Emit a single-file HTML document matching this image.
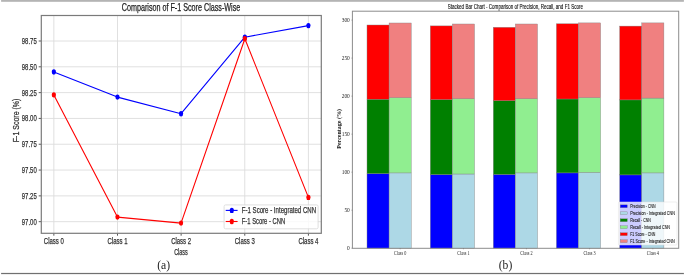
<!DOCTYPE html>
<html><head><meta charset="utf-8"><style>
html,body{margin:0;padding:0;background:#fff;}
body{width:685px;height:275px;overflow:hidden;}
svg{display:block;}
#w{will-change:transform;width:685px;height:275px;}
text{font-family:"Liberation Sans",sans-serif;}
.sf{font-family:"Liberation Serif",serif;}
.bd{stroke:#333;stroke-width:0.25px;}
</style></head><body>
<div id="w"><svg width="685" height="275" viewBox="0 0 685 275">
<rect x="0" y="0" width="685" height="275" fill="#fff"/>

<rect x="1.1" y="0" width="682.8" height="1.8" fill="#b4b4b4"/>
<rect x="1.1" y="272.9" width="682.8" height="1.2" fill="#707070"/>
<rect x="1.1" y="274.1" width="682.8" height="0.9" fill="#ececec"/>
<line x1="53.85" y1="15.5" x2="53.85" y2="233.3" stroke="#dcdcdc" stroke-width="0.9"/>
<line x1="117.49000000000001" y1="15.5" x2="117.49000000000001" y2="233.3" stroke="#dcdcdc" stroke-width="0.9"/>
<line x1="181.13" y1="15.5" x2="181.13" y2="233.3" stroke="#dcdcdc" stroke-width="0.9"/>
<line x1="244.77" y1="15.5" x2="244.77" y2="233.3" stroke="#dcdcdc" stroke-width="0.9"/>
<line x1="308.41" y1="15.5" x2="308.41" y2="233.3" stroke="#dcdcdc" stroke-width="0.9"/>
<line x1="41.3" y1="41.00" x2="321.3" y2="41.00" stroke="#dcdcdc" stroke-width="0.9"/>
<line x1="41.3" y1="66.81" x2="321.3" y2="66.81" stroke="#dcdcdc" stroke-width="0.9"/>
<line x1="41.3" y1="92.62" x2="321.3" y2="92.62" stroke="#dcdcdc" stroke-width="0.9"/>
<line x1="41.3" y1="118.43" x2="321.3" y2="118.43" stroke="#dcdcdc" stroke-width="0.9"/>
<line x1="41.3" y1="144.24" x2="321.3" y2="144.24" stroke="#dcdcdc" stroke-width="0.9"/>
<line x1="41.3" y1="170.05" x2="321.3" y2="170.05" stroke="#dcdcdc" stroke-width="0.9"/>
<line x1="41.3" y1="195.86" x2="321.3" y2="195.86" stroke="#dcdcdc" stroke-width="0.9"/>
<line x1="41.3" y1="221.67" x2="321.3" y2="221.67" stroke="#dcdcdc" stroke-width="0.9"/>
<line x1="38.699999999999996" y1="41.00" x2="41.3" y2="41.00" stroke="#444" stroke-width="0.9"/>
<text class="bd" x="36.7" y="44.00" font-size="8.8" stroke-width="0.3" fill="#333" text-anchor="end" textLength="14.9" lengthAdjust="spacingAndGlyphs">98.75</text>
<line x1="38.699999999999996" y1="66.81" x2="41.3" y2="66.81" stroke="#444" stroke-width="0.9"/>
<text class="bd" x="36.7" y="69.81" font-size="8.8" stroke-width="0.3" fill="#333" text-anchor="end" textLength="14.9" lengthAdjust="spacingAndGlyphs">98.50</text>
<line x1="38.699999999999996" y1="92.62" x2="41.3" y2="92.62" stroke="#444" stroke-width="0.9"/>
<text class="bd" x="36.7" y="95.62" font-size="8.8" stroke-width="0.3" fill="#333" text-anchor="end" textLength="14.9" lengthAdjust="spacingAndGlyphs">98.25</text>
<line x1="38.699999999999996" y1="118.43" x2="41.3" y2="118.43" stroke="#444" stroke-width="0.9"/>
<text class="bd" x="36.7" y="121.43" font-size="8.8" stroke-width="0.3" fill="#333" text-anchor="end" textLength="14.9" lengthAdjust="spacingAndGlyphs">98.00</text>
<line x1="38.699999999999996" y1="144.24" x2="41.3" y2="144.24" stroke="#444" stroke-width="0.9"/>
<text class="bd" x="36.7" y="147.24" font-size="8.8" stroke-width="0.3" fill="#333" text-anchor="end" textLength="14.9" lengthAdjust="spacingAndGlyphs">97.75</text>
<line x1="38.699999999999996" y1="170.05" x2="41.3" y2="170.05" stroke="#444" stroke-width="0.9"/>
<text class="bd" x="36.7" y="173.05" font-size="8.8" stroke-width="0.3" fill="#333" text-anchor="end" textLength="14.9" lengthAdjust="spacingAndGlyphs">97.50</text>
<line x1="38.699999999999996" y1="195.86" x2="41.3" y2="195.86" stroke="#444" stroke-width="0.9"/>
<text class="bd" x="36.7" y="198.86" font-size="8.8" stroke-width="0.3" fill="#333" text-anchor="end" textLength="14.9" lengthAdjust="spacingAndGlyphs">97.25</text>
<line x1="38.699999999999996" y1="221.67" x2="41.3" y2="221.67" stroke="#444" stroke-width="0.9"/>
<text class="bd" x="36.7" y="224.67" font-size="8.8" stroke-width="0.3" fill="#333" text-anchor="end" textLength="14.9" lengthAdjust="spacingAndGlyphs">97.00</text>
<line x1="53.85" y1="233.3" x2="53.85" y2="235.70000000000002" stroke="#444" stroke-width="0.9"/>
<text class="bd" x="53.85" y="243.90" font-size="8.2" fill="#333" text-anchor="middle" textLength="20" lengthAdjust="spacingAndGlyphs">Class 0</text>
<line x1="117.49000000000001" y1="233.3" x2="117.49000000000001" y2="235.70000000000002" stroke="#444" stroke-width="0.9"/>
<text class="bd" x="117.49000000000001" y="243.90" font-size="8.2" fill="#333" text-anchor="middle" textLength="20" lengthAdjust="spacingAndGlyphs">Class 1</text>
<line x1="181.13" y1="233.3" x2="181.13" y2="235.70000000000002" stroke="#444" stroke-width="0.9"/>
<text class="bd" x="181.13" y="243.90" font-size="8.2" fill="#333" text-anchor="middle" textLength="20" lengthAdjust="spacingAndGlyphs">Class 2</text>
<line x1="244.77" y1="233.3" x2="244.77" y2="235.70000000000002" stroke="#444" stroke-width="0.9"/>
<text class="bd" x="244.77" y="243.90" font-size="8.2" fill="#333" text-anchor="middle" textLength="20" lengthAdjust="spacingAndGlyphs">Class 3</text>
<line x1="308.41" y1="233.3" x2="308.41" y2="235.70000000000002" stroke="#444" stroke-width="0.9"/>
<text class="bd" x="308.41" y="243.90" font-size="8.2" fill="#333" text-anchor="middle" textLength="20" lengthAdjust="spacingAndGlyphs">Class 4</text>
<text class="bd" x="181" y="254.5" font-size="8.2" fill="#333" text-anchor="middle" textLength="13.6" lengthAdjust="spacingAndGlyphs">Class</text>
<text class="bd" transform="translate(18.7,120.4) rotate(-90)" x="0" y="0" font-size="8.8" stroke-width="0.35" fill="#333" text-anchor="middle" textLength="43.7" lengthAdjust="spacingAndGlyphs">F-1 Score (%)</text>
<text x="181" y="11.1" font-size="10.4" fill="#222" stroke="#222" stroke-width="0.25" text-anchor="middle" textLength="118.5" lengthAdjust="spacingAndGlyphs">Comparison of F-1 Score Class-Wise</text>
<rect x="41.3" y="15.5" width="280.0" height="217.8" fill="none" stroke="#7a7a7a" stroke-width="1.2"/>
<polyline points="53.85,72.0 117.45,97.1 181.05,113.7 244.85,37.2 308.4,25.6" fill="none" stroke="#0000ff" stroke-width="1.1" stroke-linejoin="round"/>
<ellipse cx="53.85" cy="72.0" rx="2.1" ry="2.7" fill="#0000ff"/>
<ellipse cx="117.45" cy="97.1" rx="2.1" ry="2.7" fill="#0000ff"/>
<ellipse cx="181.05" cy="113.7" rx="2.1" ry="2.7" fill="#0000ff"/>
<ellipse cx="244.85" cy="37.2" rx="2.1" ry="2.7" fill="#0000ff"/>
<ellipse cx="308.4" cy="25.6" rx="2.1" ry="2.7" fill="#0000ff"/>
<polyline points="53.85,94.9 117.45,217.1 181.05,223.1 244.85,38.8 308.4,197.4" fill="none" stroke="#ff0000" stroke-width="1.1" stroke-linejoin="round"/>
<ellipse cx="53.85" cy="94.9" rx="2.1" ry="2.7" fill="#ff0000"/>
<ellipse cx="117.45" cy="217.1" rx="2.1" ry="2.7" fill="#ff0000"/>
<ellipse cx="181.05" cy="223.1" rx="2.1" ry="2.7" fill="#ff0000"/>
<ellipse cx="244.85" cy="38.8" rx="2.1" ry="2.7" fill="#ff0000"/>
<ellipse cx="308.4" cy="197.4" rx="2.1" ry="2.7" fill="#ff0000"/>
<rect x="224.1" y="204.9" width="94" height="23.9" rx="1.5" fill="#fff" fill-opacity="0.8" stroke="#d8d8d8" stroke-width="0.8"/>
<line x1="225.7" y1="210.4" x2="237.6" y2="210.4" stroke="#0000ff" stroke-width="1.1"/>
<ellipse cx="231.8" cy="210.4" rx="2.1" ry="2.7" fill="#0000ff"/>
<text class="bd" x="241.8" y="213.3" font-size="8.6" fill="#333" textLength="74.3" lengthAdjust="spacingAndGlyphs">F-1 Score - Integrated CNN</text>
<line x1="225.7" y1="221.5" x2="237.6" y2="221.5" stroke="#ff0000" stroke-width="1.1"/>
<ellipse cx="231.8" cy="221.5" rx="2.1" ry="2.7" fill="#ff0000"/>
<text class="bd" x="241.8" y="224.4" font-size="8.6" fill="#333" textLength="43.3" lengthAdjust="spacingAndGlyphs">F-1 Score - CNN</text>
<text class="sf" x="163.6" y="268.7" font-size="11.6" fill="#222" text-anchor="middle">(a)</text>
<rect x="367.00" y="173.6" width="22.1" height="74.70" fill="#0000ff" stroke="#808080" stroke-width="0.4"/>
<rect x="367.00" y="99.2" width="22.1" height="74.40" fill="#008000" stroke="#808080" stroke-width="0.4"/>
<rect x="367.00" y="25.0" width="22.1" height="74.20" fill="#ff0000" stroke="#808080" stroke-width="0.4"/>
<rect x="389.10" y="172.9" width="22.1" height="75.40" fill="#add8e6" stroke="#808080" stroke-width="0.4"/>
<rect x="389.10" y="97.7" width="22.1" height="75.20" fill="#90ee90" stroke="#808080" stroke-width="0.4"/>
<rect x="389.10" y="23.0" width="22.1" height="74.70" fill="#f08080" stroke="#808080" stroke-width="0.4"/>
<rect x="430.30" y="174.6" width="22.1" height="73.70" fill="#0000ff" stroke="#808080" stroke-width="0.4"/>
<rect x="430.30" y="99.6" width="22.1" height="75.00" fill="#008000" stroke="#808080" stroke-width="0.4"/>
<rect x="430.30" y="25.9" width="22.1" height="73.70" fill="#ff0000" stroke="#808080" stroke-width="0.4"/>
<rect x="452.40" y="174.0" width="22.1" height="74.30" fill="#add8e6" stroke="#808080" stroke-width="0.4"/>
<rect x="452.40" y="98.8" width="22.1" height="75.20" fill="#90ee90" stroke="#808080" stroke-width="0.4"/>
<rect x="452.40" y="24.0" width="22.1" height="74.80" fill="#f08080" stroke="#808080" stroke-width="0.4"/>
<rect x="493.30" y="174.4" width="22.1" height="73.90" fill="#0000ff" stroke="#808080" stroke-width="0.4"/>
<rect x="493.30" y="100.7" width="22.1" height="73.70" fill="#008000" stroke="#808080" stroke-width="0.4"/>
<rect x="493.30" y="27.3" width="22.1" height="73.40" fill="#ff0000" stroke="#808080" stroke-width="0.4"/>
<rect x="515.40" y="172.9" width="22.1" height="75.40" fill="#add8e6" stroke="#808080" stroke-width="0.4"/>
<rect x="515.40" y="98.8" width="22.1" height="74.10" fill="#90ee90" stroke="#808080" stroke-width="0.4"/>
<rect x="515.40" y="24.0" width="22.1" height="74.80" fill="#f08080" stroke="#808080" stroke-width="0.4"/>
<rect x="556.40" y="172.9" width="22.1" height="75.40" fill="#0000ff" stroke="#808080" stroke-width="0.4"/>
<rect x="556.40" y="99.0" width="22.1" height="73.90" fill="#008000" stroke="#808080" stroke-width="0.4"/>
<rect x="556.40" y="23.8" width="22.1" height="75.20" fill="#ff0000" stroke="#808080" stroke-width="0.4"/>
<rect x="578.50" y="172.4" width="22.1" height="75.90" fill="#add8e6" stroke="#808080" stroke-width="0.4"/>
<rect x="578.50" y="97.7" width="22.1" height="74.70" fill="#90ee90" stroke="#808080" stroke-width="0.4"/>
<rect x="578.50" y="22.9" width="22.1" height="74.80" fill="#f08080" stroke="#808080" stroke-width="0.4"/>
<rect x="619.70" y="174.9" width="22.1" height="73.40" fill="#0000ff" stroke="#808080" stroke-width="0.4"/>
<rect x="619.70" y="99.9" width="22.1" height="75.00" fill="#008000" stroke="#808080" stroke-width="0.4"/>
<rect x="619.70" y="26.1" width="22.1" height="73.80" fill="#ff0000" stroke="#808080" stroke-width="0.4"/>
<rect x="641.80" y="172.9" width="22.1" height="75.40" fill="#add8e6" stroke="#808080" stroke-width="0.4"/>
<rect x="641.80" y="98.1" width="22.1" height="74.80" fill="#90ee90" stroke="#808080" stroke-width="0.4"/>
<rect x="641.80" y="22.9" width="22.1" height="75.20" fill="#f08080" stroke="#808080" stroke-width="0.4"/>
<rect x="618.4" y="202" width="58.6" height="43" rx="1" fill="#fff" fill-opacity="0.8" stroke="#dddddd" stroke-width="0.5"/>
<rect x="620.2" y="204.85" width="7.1" height="2.9" fill="#0000ff" stroke="#808080" stroke-width="0.35"/>
<text x="630.2" y="208.05" font-size="4.9" fill="#222" stroke="#222" stroke-width="0.1" textLength="25.4" lengthAdjust="spacingAndGlyphs">Precision - CNN</text>
<rect x="620.2" y="211.83" width="7.1" height="2.9" fill="#add8e6" stroke="#808080" stroke-width="0.35"/>
<text x="630.2" y="215.03" font-size="4.9" fill="#222" stroke="#222" stroke-width="0.1" textLength="44.8" lengthAdjust="spacingAndGlyphs">Precision - Integrated CNN</text>
<rect x="620.2" y="218.81" width="7.1" height="2.9" fill="#008000" stroke="#808080" stroke-width="0.35"/>
<text x="630.2" y="222.01" font-size="4.9" fill="#222" stroke="#222" stroke-width="0.1" textLength="20.6" lengthAdjust="spacingAndGlyphs">Recall - CNN</text>
<rect x="620.2" y="225.79" width="7.1" height="2.9" fill="#90ee90" stroke="#808080" stroke-width="0.35"/>
<text x="630.2" y="228.99" font-size="4.9" fill="#222" stroke="#222" stroke-width="0.1" textLength="39.9" lengthAdjust="spacingAndGlyphs">Recall - Integrated CNN</text>
<rect x="620.2" y="232.77" width="7.1" height="2.9" fill="#ff0000" stroke="#808080" stroke-width="0.35"/>
<text x="630.2" y="235.97" font-size="4.9" fill="#222" stroke="#222" stroke-width="0.1" textLength="25.2" lengthAdjust="spacingAndGlyphs">F1 Score - CNN</text>
<rect x="620.2" y="239.75" width="7.1" height="2.9" fill="#f08080" stroke="#808080" stroke-width="0.35"/>
<text x="630.2" y="242.95" font-size="4.9" fill="#222" stroke="#222" stroke-width="0.1" textLength="44.5" lengthAdjust="spacingAndGlyphs">F1 Score - Integrated CNN</text>
<rect x="352.4" y="11.2" width="326.30000000000007" height="237.10000000000002" fill="none" stroke="#8c8c8c" stroke-width="1.0"/>
<line x1="351.4" y1="248.20" x2="352.4" y2="248.20" stroke="#666" stroke-width="0.5"/>
<text class="sf" x="349.8" y="250.00" font-size="5.4" fill="#222" text-anchor="end">0</text>
<line x1="351.4" y1="210.19" x2="352.4" y2="210.19" stroke="#666" stroke-width="0.5"/>
<text class="sf" x="349.8" y="211.99" font-size="5.4" fill="#222" text-anchor="end">50</text>
<line x1="351.4" y1="172.17" x2="352.4" y2="172.17" stroke="#666" stroke-width="0.5"/>
<text class="sf" x="349.8" y="173.97" font-size="5.4" fill="#222" text-anchor="end">100</text>
<line x1="351.4" y1="134.15" x2="352.4" y2="134.15" stroke="#666" stroke-width="0.5"/>
<text class="sf" x="349.8" y="135.95" font-size="5.4" fill="#222" text-anchor="end">150</text>
<line x1="351.4" y1="96.14" x2="352.4" y2="96.14" stroke="#666" stroke-width="0.5"/>
<text class="sf" x="349.8" y="97.94" font-size="5.4" fill="#222" text-anchor="end">200</text>
<line x1="351.4" y1="58.12" x2="352.4" y2="58.12" stroke="#666" stroke-width="0.5"/>
<text class="sf" x="349.8" y="59.92" font-size="5.4" fill="#222" text-anchor="end">250</text>
<line x1="351.4" y1="20.11" x2="352.4" y2="20.11" stroke="#666" stroke-width="0.5"/>
<text class="sf" x="349.8" y="21.91" font-size="5.4" fill="#222" text-anchor="end">300</text>
<line x1="400.15" y1="248.3" x2="400.15" y2="249.3" stroke="#666" stroke-width="0.5"/>
<text class="sf" x="400.15" y="254.6" font-size="5.6" fill="#222" text-anchor="middle" textLength="12.2" lengthAdjust="spacingAndGlyphs">Class 0</text>
<line x1="463.45" y1="248.3" x2="463.45" y2="249.3" stroke="#666" stroke-width="0.5"/>
<text class="sf" x="463.45" y="254.6" font-size="5.6" fill="#222" text-anchor="middle" textLength="12.2" lengthAdjust="spacingAndGlyphs">Class 1</text>
<line x1="526.45" y1="248.3" x2="526.45" y2="249.3" stroke="#666" stroke-width="0.5"/>
<text class="sf" x="526.45" y="254.6" font-size="5.6" fill="#222" text-anchor="middle" textLength="12.2" lengthAdjust="spacingAndGlyphs">Class 2</text>
<line x1="589.55" y1="248.3" x2="589.55" y2="249.3" stroke="#666" stroke-width="0.5"/>
<text class="sf" x="589.55" y="254.6" font-size="5.6" fill="#222" text-anchor="middle" textLength="12.2" lengthAdjust="spacingAndGlyphs">Class 3</text>
<line x1="652.85" y1="248.3" x2="652.85" y2="249.3" stroke="#666" stroke-width="0.5"/>
<text class="sf" x="652.85" y="254.6" font-size="5.6" fill="#222" text-anchor="middle" textLength="12.2" lengthAdjust="spacingAndGlyphs">Class 4</text>
<text class="sf" transform="translate(341.3,128.9) rotate(-90)" font-size="5.6" font-weight="bold" fill="#111" text-anchor="middle" textLength="39.6" lengthAdjust="spacingAndGlyphs">Percentage (%)</text>
<text x="515.4" y="8.8" font-size="6.4" fill="#111" stroke="#111" stroke-width="0.12" text-anchor="middle" textLength="135.3" lengthAdjust="spacingAndGlyphs">Stacked Bar Chart - Comparison of Precision, Recall, and F1 Score</text>
<text class="sf" x="505.5" y="268.7" font-size="11.6" fill="#222" text-anchor="middle">(b)</text>
</svg></div>
</body></html>
